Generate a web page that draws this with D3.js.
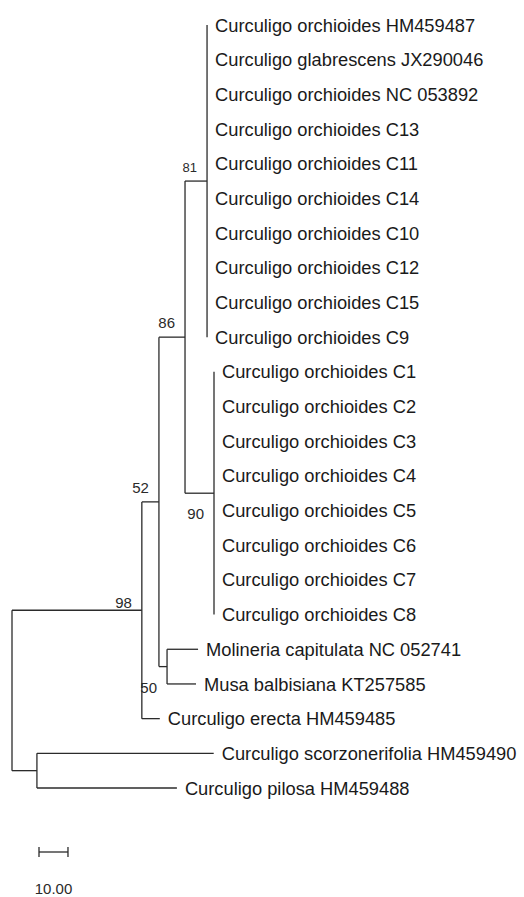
<!DOCTYPE html>
<html>
<head>
<meta charset="utf-8">
<script src="https://cdnjs.cloudflare.com/ajax/libs/d3/7.8.5/d3.min.js"></script>
<style>
	body { margin: 0; background: #fff; }
	svg { display: block; }
</style>
</head>
<body>
<div id="tree"></div>
<script>

// leaves, top to bottom
var leafNames = [
	'Curculigo orchioides HM459487',
	'Curculigo glabrescens JX290046',
	'Curculigo orchioides NC 053892',
	'Curculigo orchioides C13',
	'Curculigo orchioides C11',
	'Curculigo orchioides C14',
	'Curculigo orchioides C10',
	'Curculigo orchioides C12',
	'Curculigo orchioides C15',
	'Curculigo orchioides C9',
	'Curculigo orchioides C1',
	'Curculigo orchioides C2',
	'Curculigo orchioides C3',
	'Curculigo orchioides C4',
	'Curculigo orchioides C5',
	'Curculigo orchioides C6',
	'Curculigo orchioides C7',
	'Curculigo orchioides C8',
	'Molineria capitulata NC 052741',
	'Musa balbisiana KT257585',
	'Curculigo erecta HM459485',
	'Curculigo scorzonerifolia HM459490',
	'Curculigo pilosa HM459488'
];

// [parent, child, branch length], children in drawing order
var edges = [
	['root', 'n98', 44.8],
	['root', 'nSP', 8.6],
	['n98', 'n52', 5.9],
	['n98', 'Curculigo erecta HM459485', 6.2],
	['n52', 'n86', 9.0],
	['n52', 'nMM', 2.8],
	['n86', 'n81', 7.6],
	['n86', 'n90', 10.0],
	['nMM', 'Molineria capitulata NC 052741', 10.7],
	['nMM', 'Musa balbisiana KT257585', 10.0],
	['nSP', 'Curculigo scorzonerifolia HM459490', 61.0],
	['nSP', 'Curculigo pilosa HM459488', 48.3]
];
// the two collapsed clades: zero length leaves
leafNames.slice(0, 10).forEach(function (n) { edges.push(['n81', n, 0]); });
leafNames.slice(10, 18).forEach(function (n) { edges.push(['n90', n, 0]); });

var bootstrap = [
	['n81', 81],
	['n86', 86],
	['n52', 52],
	['n98', 98],
	['n90', 90],
	['nMM', 50]
];

var scaleBarValue = 10;
var scaleBarLabel = '10.00';


function mkTree(divid) {
	var width = 524, height = 897;

	var rows = [{id: 'root', parent: null, len: 0}];
	edges.forEach(function (e) {
		rows.push({id: e[1], parent: e[0], len: e[2]});
	});
	var root = d3.stratify()
		.id(function (d) { return d.id; })
		.parentId(function (d) { return d.parent; })(rows);

	root.eachBefore(function (n) {
		n.dist = n.parent ? n.parent.dist + n.data.len : 0;
	});
	var maxDist = d3.max(root.leaves(), function (n) { return n.dist; });

	var x = d3.scaleLinear().domain([0, maxDist]).range([12, 214]);
	var y = d3.scalePoint().domain(leafNames).range([25, 788]);

	root.eachAfter(function (n) {
		if (n.children) {
			n.y = (n.children[0].y + n.children[n.children.length - 1].y) / 2;
		} else {
			n.y = y(n.id);
		}
	});

	var svg = d3.select(divid)
		.append('svg')
			.attr('width', width)
			.attr('height', height);

	svg.append('rect')
		.attr('width', width)
		.attr('height', height)
		.attr('fill', '#fff');

	var g = svg.append('g')
		.attr('fill', 'none')
		.attr('stroke', '#2b2b2b')
		.attr('stroke-width', 1.3);

	// horizontal branches
	g.selectAll('.hbranch')
		.data(root.descendants().filter(function (n) { return n.parent && n.data.len > 0; }))
		.enter().append('line')
			.attr('class', 'hbranch')
			.attr('x1', function (n) { return x(n.parent.dist); })
			.attr('x2', function (n) { return x(n.dist); })
			.attr('y1', function (n) { return n.y; })
			.attr('y2', function (n) { return n.y; });

	// vertical connectors
	g.selectAll('.vbranch')
		.data(root.descendants().filter(function (n) { return n.children; }))
		.enter().append('line')
			.attr('class', 'vbranch')
			.attr('x1', function (n) { return x(n.dist); })
			.attr('x2', function (n) { return x(n.dist); })
			.attr('y1', function (n) { return n.children[0].y; })
			.attr('y2', function (n) { return n.children[n.children.length - 1].y; });

	// leaf labels
	svg.selectAll('.leaf')
		.data(root.leaves())
		.enter().append('text')
			.attr('class', 'leaf')
			.attr('x', function (n) { return x(n.dist) + 8; })
			.attr('y', function (n) { return n.y; })
			.attr('dy', '0.36em')
			.attr('font-family', 'Liberation Sans, Arial, sans-serif')
			.attr('font-size', 18.3)
			.attr('fill', '#1a1a1a')
			.text(function (n) { return n.id; });

	// bootstrap values, most sit above the branch, two below
	var byId = {};
	root.each(function (n) { byId[n.id] = n; });
	var below = {n90: 26, nMM: 26, n98: -2};

	svg.selectAll('.boot')
		.data(bootstrap)
		.enter().append('text')
			.attr('class', 'boot')
			.attr('x', function (b) { return x(byId[b[0]].dist) - 10; })
			.attr('y', function (b) {
				var off = below[b[0]] !== undefined ? below[b[0]] : -9;
				return byId[b[0]].y + off;
			})
			.attr('text-anchor', 'end')
			.attr('font-family', 'Liberation Sans, Arial, sans-serif')
			.attr('font-size', function (b) { return b[0] == 'n81' ? 13 : 15; })
			.attr('fill', '#2a2a2a')
			.text(function (b) { return b[1]; });

	// scale bar
	var barLen = x(scaleBarValue) - x(0);
	var bx = 39, by = 852;
	var sb = svg.append('g')
		.attr('stroke', '#2b2b2b')
		.attr('stroke-width', 1.3);
	sb.append('line')
		.attr('x1', bx).attr('x2', bx + barLen)
		.attr('y1', by).attr('y2', by);
	sb.append('line')
		.attr('x1', bx).attr('x2', bx)
		.attr('y1', by - 5).attr('y2', by + 5);
	sb.append('line')
		.attr('x1', bx + barLen).attr('x2', bx + barLen)
		.attr('y1', by - 5).attr('y2', by + 5);

	svg.append('text')
		.attr('x', bx + barLen / 2)
		.attr('y', 894)
		.attr('text-anchor', 'middle')
		.attr('font-family', 'Liberation Sans, Arial, sans-serif')
		.attr('font-size', 15)
		.attr('fill', '#2a2a2a')
		.text(scaleBarLabel);
}

mkTree('#tree');
</script>
</body>
</html>
